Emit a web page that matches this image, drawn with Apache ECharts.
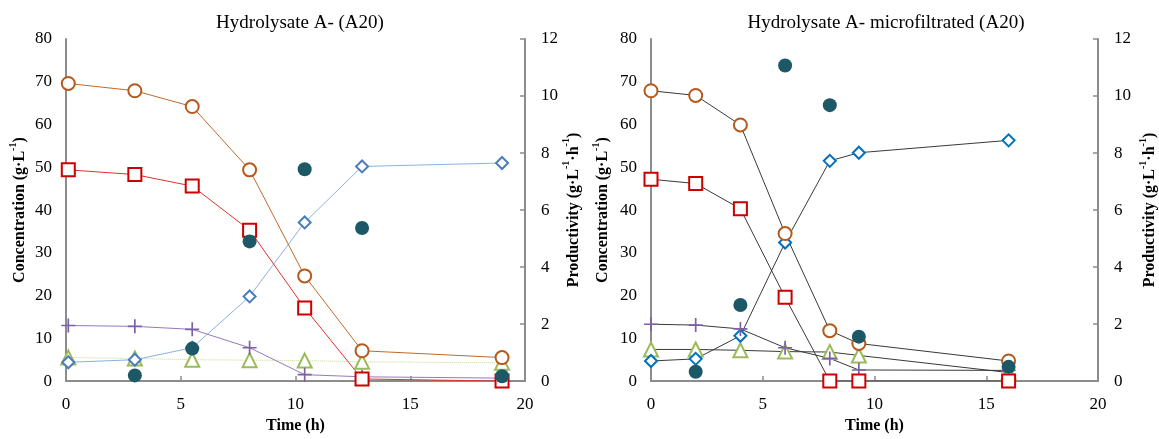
<!DOCTYPE html>
<html>
<head>
<meta charset="utf-8">
<script src="https://cdn.jsdelivr.net/npm/echarts@6/dist/echarts.min.js"></script>
<style>
html,body{margin:0;padding:0;background:#fff;}
#chart{width:1159px;height:439px;}
</style>
</head>
<body>
<div id="chart"></div>
<script>
// ---- Data: left panel "Hydrolysate A- (A20)" ----
const leftTitle = 'Hydrolysate A- (A20)';
const leftTime = [0.1, 3.0, 5.5, 8.0, 10.4, 12.9, 19.0];
const leftCircle = [69.6, 67.9, 64.2, 49.4, 24.6, 7.1, 5.5];
const leftSquare = [49.4, 48.3, 45.6, 35.3, 17.1, 0.5, 0.0];
const leftDiamond = [4.4, 5.0, 7.8, 19.8, 37.1, 50.2, 51.0];
const leftPlus = [13.0, 12.8, 12.1, 7.8, 1.5, 1.0, 0.7];
const leftTriangle = [5.5, 5.3, 5.0, 4.9, 4.8, 4.5, 4.3];
const leftProdTime = [3.0, 5.5, 8.0, 10.4, 12.9, 19.0];
const leftProd = [0.2, 1.14, 4.9, 7.43, 5.37, 0.17];

// ---- Data: right panel "Hydrolysate A- microfiltrated (A20)" ----
const rightTitle = 'Hydrolysate A- microfiltrated (A20)';
const rightTime = [0, 2, 4, 6, 8, 9.3, 16];
const rightCircle = [67.9, 66.8, 59.9, 34.5, 11.8, 8.8, 4.7];
const rightSquare = [47.2, 46.2, 40.3, 19.6, 0, 0, 0];
const rightDiamond = [4.7, 5.2, 10.6, 32.4, 51.5, 53.4, 56.3];
const rightPlus = [13.3, 13.1, 12.2, 7.8, 5.3, 2.6, 2.5];
const rightTriangle = [7.4, 7.4, 7.2, 6.9, 6.8, 6.0, 2.0];
const rightProdTime = [2, 4, 6, 8, 9.3, 16];
const rightProd = [0.33, 2.67, 11.07, 9.68, 1.56, 0.5];

// ---- Axis ----
const xMin = 0, xMax = 20, xStep = 5;
const concMin = 0, concMax = 80, concStep = 10;
const prodMin = 0, prodMax = 12, prodStep = 2;

const FONT = "'Liberation Serif','Times New Roman',serif";
const pairs = (xs, ys) => xs.map((x, i) => [x, ys[i]]);
const PLUS = 'path://M4.4,0h1.2v4.4h4.4v1.2h-4.4v4.4h-1.2v-4.4h-4.4v-1.2h4.4z';

const axisGray = '#8c8c8c';
const richName = {
  a: {fontFamily: FONT, fontWeight: 'bold', fontSize: 16, color: '#000', verticalAlign: 'bottom', lineHeight: 20},
  s: {fontFamily: FONT, fontWeight: 'bold', fontSize: 10, color: '#000', verticalAlign: 'top', lineHeight: 20}
};

function xAxis(gi) {
  return {
    type: 'value', gridIndex: gi, min: xMin, max: xMax, interval: xStep,
    name: 'Time (h)', nameLocation: 'middle', nameGap: 36,
    nameTextStyle: {fontFamily: FONT, fontWeight: 'bold', fontSize: 16, color: '#000'},
    axisLine: {show: true, lineStyle: {color: axisGray, width: 2}},
    axisTick: {show: true, inside: true, length: 5, lineStyle: {color: axisGray, width: 1.5}},
    axisLabel: {fontFamily: FONT, fontSize: 17, color: '#000', margin: 15},
    splitLine: {show: false}
  };
}
function concAxis(gi, gap) {
  return {
    type: 'value', gridIndex: gi, min: concMin, max: concMax, interval: concStep, position: 'left',
    name: '{a|Concentration (g·L}{s|-1}{a|)}', nameLocation: 'middle', nameGap: gap, nameRotate: 90,
    nameTextStyle: {rich: richName},
    axisLine: {show: true, lineStyle: {color: axisGray, width: 2}},
    axisTick: {show: false},
    axisLabel: {fontFamily: FONT, fontSize: 17, color: '#000', margin: 14},
    splitLine: {show: false}
  };
}
function prodAxis(gi, gap) {
  return {
    type: 'value', gridIndex: gi, min: prodMin, max: prodMax, interval: prodStep, position: 'right',
    name: '{a|Productivity (g·L}{s|-1}{a|·h}{s|-1}{a|)}', nameLocation: 'middle', nameGap: gap, nameRotate: 90,
    nameTextStyle: {rich: richName},
    axisLine: {show: true, lineStyle: {color: axisGray, width: 2}},
    axisTick: {show: true, inside: true, length: 5, lineStyle: {color: axisGray, width: 1.5}},
    axisLabel: {fontFamily: FONT, fontSize: 17, color: '#000', margin: 16},
    splitLine: {show: false}
  };
}

function lineSeries(xi, yi, data, symbol, size, markerColor, lineColor, lineType, z) {
  return {
    type: 'line', xAxisIndex: xi, yAxisIndex: yi, data: data,
    symbol: symbol, symbolSize: size, showSymbol: true, animation: false,
    lineStyle: {color: lineColor, width: 1, type: lineType || 'solid'},
    itemStyle: {color: markerColor, borderColor: markerColor, borderWidth: 1.8},
    z: z || 3
  };
}
function plusSeries(xi, yi, data, color, lineColor, lineType) {
  return {
    type: 'line', xAxisIndex: xi, yAxisIndex: yi, data: data,
    symbol: PLUS, symbolSize: 14, animation: false,
    lineStyle: {color: lineColor, width: 1, type: lineType || 'solid'},
    itemStyle: {color: color, borderWidth: 0},
    z: 3
  };
}
function dotSeries(xi, yi, data) {
  return {
    type: 'scatter', xAxisIndex: xi, yAxisIndex: yi, data: data,
    symbol: 'circle', symbolSize: 14, animation: false,
    itemStyle: {color: '#1d5867', opacity: 1},
    z: 5
  };
}

const cOrange = '#b55a1c', cRed = '#cc0000', cPurple = '#7c5fa6';
const lineDark = '#3a3a3a';

const option = {
  backgroundColor: '#fff',
  animation: false,
  title: [
    {text: leftTitle, left: 295, top: 9, textAlign: 'center',
     textStyle: {fontFamily: FONT, fontWeight: 'normal', fontSize: 19, color: '#000'}},
    {text: rightTitle, left: 881, top: 9, textAlign: 'center',
     textStyle: {fontFamily: FONT, fontWeight: 'normal', fontSize: 19, color: '#000'}}
  ],
  grid: [
    {left: 66, top: 39, width: 459, height: 347, containLabel: false},
    {left: 651, top: 39, width: 461, height: 346, containLabel: false}
  ],
  xAxis: [xAxis(0), xAxis(1)],
  yAxis: [concAxis(0, 38), prodAxis(0, 34), concAxis(1, 40), prodAxis(1, 40)],
  series: [
    // left panel
    lineSeries(0, 0, pairs(leftTime, leftTriangle), 'emptyTriangle', 14, '#9bbb59', '#c4d89c', 'dotted'),
    lineSeries(0, 0, pairs(leftTime, leftDiamond), 'emptyDiamond', 12, '#4a7ebb', '#8cb2e0'),
    plusSeries(0, 0, pairs(leftTime, leftPlus), cPurple, '#9678c4'),
    lineSeries(0, 0, pairs(leftTime, leftSquare), 'emptyRect', 13, cRed, '#e0302f'),
    lineSeries(0, 0, pairs(leftTime, leftCircle), 'emptyCircle', 13, cOrange, '#bf6a2a'),
    dotSeries(0, 1, pairs(leftProdTime, leftProd)),
    // right panel
    lineSeries(1, 2, pairs(rightTime, rightTriangle), 'emptyTriangle', 14, '#9bbb59', lineDark),
    lineSeries(1, 2, pairs(rightTime, rightDiamond), 'emptyDiamond', 12, '#0070c0', lineDark),
    plusSeries(1, 2, pairs(rightTime, rightPlus), cPurple, lineDark),
    lineSeries(1, 2, pairs(rightTime, rightSquare), 'emptyRect', 13, cRed, lineDark),
    lineSeries(1, 2, pairs(rightTime, rightCircle), 'emptyCircle', 13, cOrange, lineDark),
    dotSeries(1, 3, pairs(rightProdTime, rightProd))
  ]
};

const chart = echarts.init(document.getElementById('chart'), null, {renderer: 'canvas'});
chart.setOption(option);
</script>
</body>
</html>
